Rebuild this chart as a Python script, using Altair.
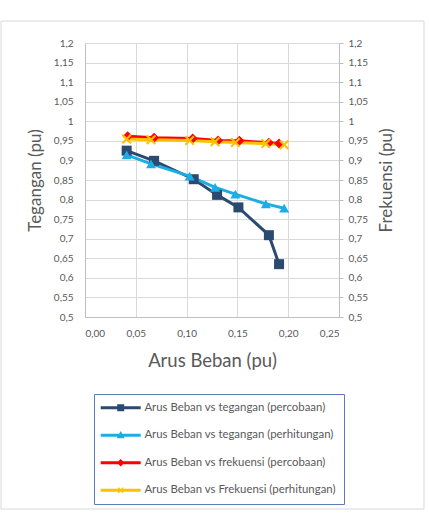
import altair as alt
import pandas as pd

# Arus beban (pu) dan hasil pengukuran / perhitungan
arus_teg_percobaan = [0.041, 0.068, 0.107, 0.130, 0.151, 0.181, 0.191]
teg_percobaan = [0.925, 0.899, 0.852, 0.812, 0.780, 0.709, 0.635]

arus_teg_perhitungan = [0.041, 0.065, 0.103, 0.128, 0.148, 0.178, 0.196]
teg_perhitungan = [0.914, 0.891, 0.860, 0.831, 0.814, 0.789, 0.778]

arus_frek_percobaan = [0.042, 0.068, 0.106, 0.131, 0.152, 0.181, 0.191]
frek_percobaan = [0.962, 0.958, 0.956, 0.951, 0.950, 0.945, 0.943]

arus_frek_perhitungan = [0.041, 0.065, 0.103, 0.128, 0.148, 0.178, 0.196]
frek_perhitungan = [0.955, 0.953, 0.951, 0.948, 0.946, 0.943, 0.940]

seri = [
    "Arus Beban vs tegangan (percobaan)",
    "Arus Beban vs tegangan (perhitungan)",
    "Arus Beban vs frekuensi (percobaan)",
    "Arus Beban vs Frekuensi (perhitungan)",
]
warna = ["#2B4A72", "#1CADE4", "#FF0000", "#FFC000"]

x_ticks = [0.0, 0.05, 0.10, 0.15, 0.20, 0.25]
y_ticks = [0.5, 0.55, 0.6, 0.65, 0.7, 0.75, 0.8, 0.85, 0.9, 0.95,
           1.0, 1.05, 1.1, 1.15, 1.2]

# X-shaped marker as a filled polygon
X_PATH = ("M-1,-0.7L-0.7,-1L0,-0.3L0.7,-1L1,-0.7L0.3,0L1,0.7L0.7,1"
          "L0,0.3L-0.7,1L-1,0.7L-0.3,0Z")
marker_shapes = ["square", "triangle-up", "diamond", X_PATH]

# legend symbols: a line segment with the marker in its centre
BAR = "M-4,-0.3H4V0.3H-4Z"
legend_shapes = [
    BAR + "M-0.7,-0.7H0.7V0.7H-0.7Z",
    BAR + "M0,-0.85L0.8,0.6H-0.8Z",
    BAR + "M0,-0.75L0.75,0L0,0.75L-0.75,0Z",
    BAR + ("M-0.6,-0.42L-0.42,-0.6L0,-0.18L0.42,-0.6L0.6,-0.42L0.18,0"
           "L0.6,0.42L0.42,0.6L0,0.18L-0.42,0.6L-0.6,0.42L-0.18,0Z"),
]

rows = []
for nama, xs, ys, sumbu in [
    (seri[0], arus_teg_percobaan, teg_percobaan, "teg"),
    (seri[1], arus_teg_perhitungan, teg_perhitungan, "teg"),
    (seri[2], arus_frek_percobaan, frek_percobaan, "frek"),
    (seri[3], arus_frek_perhitungan, frek_perhitungan, "frek"),
]:
    for a, v in zip(xs, ys):
        rows.append({"arus": a, "nilai": v, "seri": nama, "sumbu": sumbu})
df = pd.DataFrame(rows)

FONT = "Lato"
TXT = "#595959"
GRID = "#D9D9D9"

x_enc = alt.X(
    "arus:Q",
    scale=alt.Scale(domain=[0, 0.25], nice=False, zero=False),
    axis=alt.Axis(
        values=x_ticks,
        labelExpr="replace(format(datum.value, '.2f'), '.', ',')",
        title="Arus Beban (pu)",
        titleFontSize=18.5, titleFontWeight="normal", titleColor=TXT,
        titleFont=FONT, titlePadding=13,
        labelFont=FONT, labelFontSize=10, labelColor=TXT, labelPadding=11,
        ticks=False, grid=True, gridColor=GRID, domainColor="#BFBFBF",
    ),
)

y_scale = alt.Scale(domain=[0.5, 1.2], nice=False, zero=False)
y_label_expr = "replace(format(datum.value, '.2~f'), '.', ',')"

y_left = alt.Y(
    "nilai:Q", scale=y_scale,
    axis=alt.Axis(
        values=y_ticks, labelExpr=y_label_expr,
        title="Tegangan  (pu)", titleFontSize=17, titleFontWeight="normal",
        titleColor=TXT, titleFont=FONT, titlePadding=9,
        labelFont=FONT, labelFontSize=10, labelColor=TXT, labelPadding=12,
        ticks=False, grid=True, gridColor=GRID, domainColor="#BFBFBF",
    ),
)
y_right = alt.Y(
    "nilai:Q", scale=y_scale,
    axis=alt.Axis(
        orient="right", values=y_ticks, labelExpr=y_label_expr,
        title="Frekuensi (pu)", titleFontSize=17, titleFontWeight="normal",
        titleColor=TXT, titleFont=FONT, titlePadding=11, titleAngle=270,
        titleBaseline="top",
        labelFont=FONT, labelFontSize=10, labelColor=TXT, labelPadding=5,
        ticks=True, tickSize=4, tickColor="#BFBFBF",
        grid=False, domainColor="#BFBFBF",
    ),
)
y_none = alt.Y("nilai:Q", scale=y_scale, axis=None)

color_plain = alt.Color("seri:N", scale=alt.Scale(domain=seri, range=warna),
                        legend=None)
shape_plain = alt.Shape("seri:N",
                        scale=alt.Scale(domain=seri, range=marker_shapes),
                        legend=None)


def series_layer(sumbu, y_enc):
    base = alt.Chart(df).transform_filter(alt.datum.sumbu == sumbu)
    line = base.mark_line(strokeWidth=3).encode(
        x=x_enc, y=y_enc, color=color_plain, detail="seri:N")
    pts = base.mark_point(filled=True, size=100, opacity=1).encode(
        x=x_enc, y=y_enc, color=color_plain, shape=shape_plain)
    return alt.layer(line, pts)


left = series_layer("teg", y_left)
right = series_layer("frek", y_right)

legend_layer = (
    alt.Chart(df)
    .transform_filter("false")
    .mark_point(filled=True, size=100, opacity=1)
    .encode(
        x=x_enc, y=y_none,
        color=alt.Color(
            "seri:N", scale=alt.Scale(domain=seri, range=warna),
            legend=alt.Legend(
                title=None, orient="none", legendX=9, legendY=351,
                padding=8, strokeColor="#5B7DB5", fillColor="white",
                labelFont=FONT, labelFontSize=11.4, labelColor=TXT,
                symbolSize=100, symbolOffset=13, labelOffset=18,
                rowPadding=14.5, symbolStrokeWidth=0, labelLimit=300,
            ),
        ),
        shape=alt.Shape("seri:N",
                        scale=alt.Scale(domain=seri, range=legend_shapes)),
    )
)

# light outer frame around the whole figure
frame = alt.Chart(alt.Data(values=[{}])).mark_rect(
    fill="transparent", stroke=GRID, strokeWidth=1
).encode(
    x=alt.value(-84), x2=alt.value(339), y=alt.value(-22), y2=alt.value(466)
)

chart = (
    alt.layer(frame, left, right, legend_layer)
    .resolve_scale(y="independent", color="independent", shape="independent")
    .properties(
        width=254, height=274,
        autosize=alt.AutoSizeParams(type="none"),
        padding={"left": 85, "top": 43, "right": 90, "bottom": 198},
        background="white",
    )
    .configure_view(stroke=None)
)

chart.save("out.html", embed_options={"renderer": "svg", "actions": False})
